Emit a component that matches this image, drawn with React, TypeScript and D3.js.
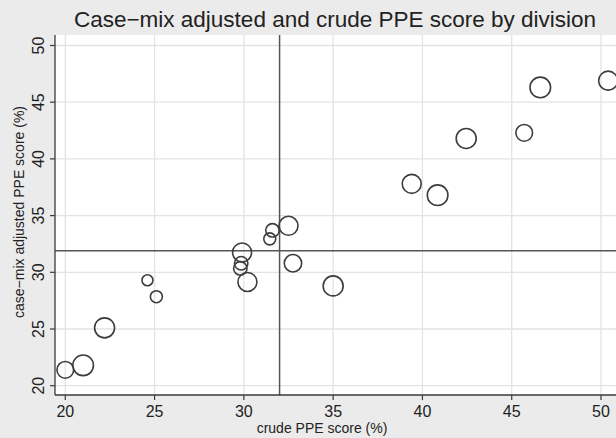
import React from "react";
import * as d3 from "d3";

// crude PPE score (%) per division
const crude = [20.0, 21.0, 22.2, 24.6, 25.1, 29.9, 29.85, 29.8, 30.2, 31.45, 31.6, 32.5, 32.75, 35.0, 39.4, 40.85, 42.45, 45.7, 46.6, 50.4];
// case-mix adjusted PPE score (%) per division
const adjusted = [21.4, 21.8, 25.1, 29.3, 27.85, 31.75, 30.8, 30.35, 29.15, 32.95, 33.7, 34.1, 30.8, 28.8, 37.8, 36.8, 41.8, 42.3, 46.3, 46.9];
// relative weight (division size) — marker area
const weight = [70, 106, 100, 30, 36, 90, 45, 45, 90, 36, 45, 90, 76, 100, 90, 106, 100, 70, 106, 90];

const xTicks = [20, 25, 30, 35, 40, 45, 50];
const yTicks = [20, 25, 30, 35, 40, 45, 50];
const refX = 32;
const refY = 31.9;

const W = 616;
const H = 438;

export default function App() {
  const left = 55;
  const top = 35;
  const bottom = 395;
  const right = 640;

  const x = d3.scaleLinear().domain([20, 50]).range([65.3, 601]);
  const y = d3.scaleLinear().domain([20, 50]).range([385.7, 45.5]);
  const r = d3.scaleSqrt().domain([0, 100]).range([0, 10]);

  const font = "'Liberation Sans', Arial, Helvetica, sans-serif";
  const ink = "#3a3a3a";

  return (
    <svg width={W} height={H} style={{ position: "absolute", left: 0, top: 0, display: "block" }}>
      <rect x={0} y={0} width={W} height={H} fill="#ebebeb" />
      <rect x={left} y={top} width={right - left} height={bottom - top} fill="#ffffff" />
      {/* grid */}
      {xTicks.map((t) => (
        <line key={"gx" + t} x1={x(t)} x2={x(t)} y1={top} y2={bottom} stroke="#e3e3e3" strokeWidth={1.3} />
      ))}
      {yTicks.map((t) => (
        <line key={"gy" + t} x1={left} x2={right} y1={y(t)} y2={y(t)} stroke="#e3e3e3" strokeWidth={1.3} />
      ))}
      {/* reference lines */}
      <line x1={x(refX)} x2={x(refX)} y1={top} y2={bottom} stroke="#555" strokeWidth={1.5} />
      <line x1={left} x2={right} y1={y(refY)} y2={y(refY)} stroke="#555" strokeWidth={1.5} />
      {/* points */}
      {crude.map((cx, i) => (
        <circle
          key={"p" + i}
          cx={x(cx)}
          cy={y(adjusted[i])}
          r={r(weight[i])}
          fill="none"
          stroke="#3d3d3d"
          strokeWidth={1.6}
        />
      ))}
      {/* axes */}
      <line x1={left} x2={left} y1={top} y2={bottom} stroke={ink} strokeWidth={1.3} />
      <line x1={left} x2={right} y1={bottom} y2={bottom} stroke={ink} strokeWidth={1.3} />
      {xTicks.map((t) => (
        <g key={"xt" + t}>
          <line x1={x(t)} x2={x(t)} y1={bottom} y2={bottom + 5} stroke={ink} strokeWidth={1.2} />
          <text x={x(t)} y={417} textAnchor="middle" fontFamily={font} fontSize={16} fill="#222">
            {t}
          </text>
        </g>
      ))}
      {yTicks.map((t) => (
        <g key={"yt" + t}>
          <line x1={left - 5} x2={left} y1={y(t)} y2={y(t)} stroke={ink} strokeWidth={1.2} />
          <text
            transform={`translate(${44},${y(t)}) rotate(-90)`}
            textAnchor="middle"
            fontFamily={font}
            fontSize={16}
            fill="#222"
          >
            {t}
          </text>
        </g>
      ))}
      <text x={322} y={433} textAnchor="middle" fontFamily={font} fontSize={14} fill="#222">
        crude PPE score  (%)
      </text>
      <text
        transform={`translate(${24},${212}) rotate(-90)`}
        textAnchor="middle"
        fontFamily={font}
        fontSize={14}
        fill="#222"
      >
        case−mix adjusted PPE score  (%)
      </text>
      <text x={335} y={27} textAnchor="middle" fontFamily={font} fontSize={22.5} fill="#222">
        Case−mix adjusted and crude PPE score by division
      </text>
    </svg>
  );
}
